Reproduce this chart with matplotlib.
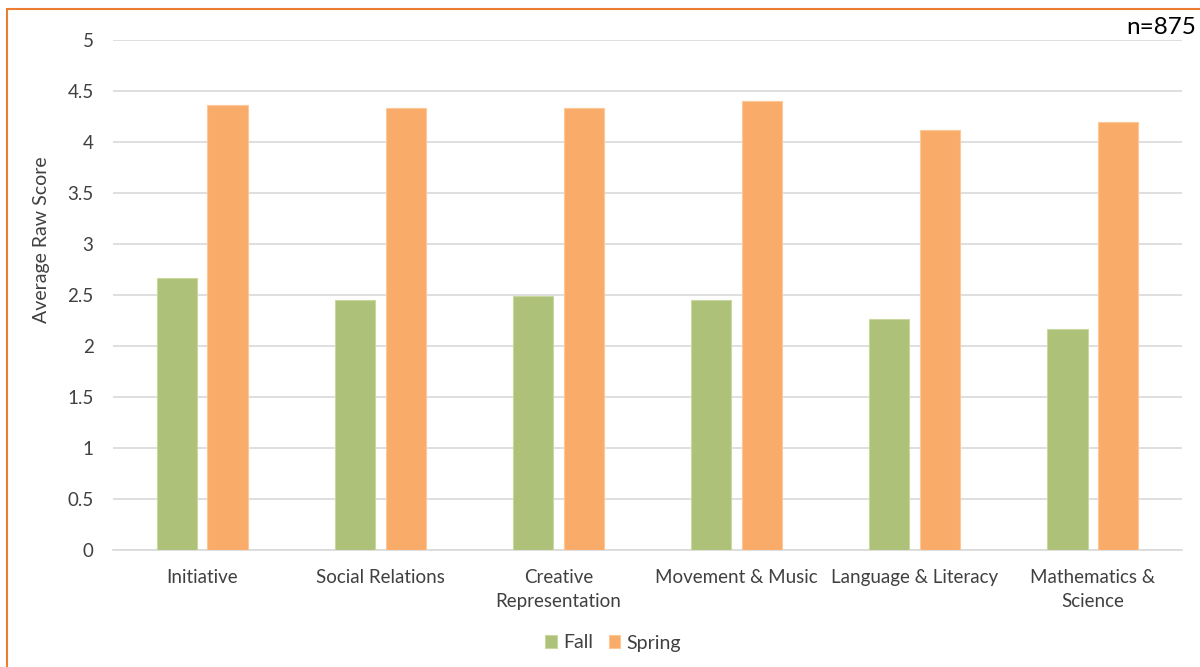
import numpy as np
import matplotlib.pyplot as plt
from matplotlib.patches import Rectangle

categories = ["Initiative", "Social Relations", "Creative\nRepresentation",
              "Movement & Music", "Language & Literacy", "Mathematics &\nScience"]
fall = [2.67, 2.45, 2.49, 2.45, 2.26, 2.17]
spring = [4.36, 4.33, 4.33, 4.40, 4.12, 4.20]
yticks = [0, 0.5, 1, 1.5, 2, 2.5, 3, 3.5, 4, 4.5, 5]

plt.rcParams['font.family'] = ['Lato', 'DejaVu Sans']

fig = plt.figure(figsize=(12, 6.67), dpi=100)
ax = fig.add_axes([113/1200, 1 - 550/667, (1182-113)/1200, (550-40)/667])

x = np.arange(len(categories))
w = 0.225
off = (w + 0.06) / 2
ax.bar(x - off, fall, w, color="#adc178", edgecolor="#c9d8a0", linewidth=0.8, label="Fall", zorder=3)
ax.bar(x + off, spring, w, color="#f9ab69", edgecolor="#fcc898", linewidth=0.8, label="Spring", zorder=3)

ax.set_xlim(-0.5, len(categories) - 0.5)
ax.set_ylim(0, 5)
ax.set_yticks(yticks)
ax.set_yticklabels([f"{t:g}" for t in yticks])
ax.set_xticks(x)
ax.set_xticklabels(categories, linespacing=1.45, va="top")
ax.tick_params(length=0, labelsize=13.5, colors="#404040")
ax.tick_params(axis="y", pad=14)
ax.tick_params(axis="x", pad=14)
ax.grid(axis="y", color="#d9d9d9", linewidth=1.2, zorder=0)
for s in ["top", "right", "left"]:
    ax.spines[s].set_visible(False)
ax.spines["bottom"].set_color("#d9d9d9")
ax.spines["bottom"].set_linewidth(1.2)

fig.text(42/1200, 1 - 240/667, "Average Raw Score", rotation=90, ha="center", va="center",
         fontsize=14, color="#404040")
fig.text(1196/1200, 1 - 28/667, "n=875", ha="right", va="center", fontsize=17.5, color="black")

ax.legend(loc="center", bbox_to_anchor=(613/1200, 1 - 643/667), bbox_transform=fig.transFigure,
          ncol=2, frameon=False, fontsize=14, handlelength=0.6, handleheight=0.6,
          columnspacing=0.8, handletextpad=0.3, labelcolor="#404040")

fig.patches.append(Rectangle((7/1200, -0.1), 1.2, 1 - 9/667 + 0.1, transform=fig.transFigure,
                             fill=False, edgecolor="#ed7d31", linewidth=1.5))

fig.savefig("out.png", dpi=100)
